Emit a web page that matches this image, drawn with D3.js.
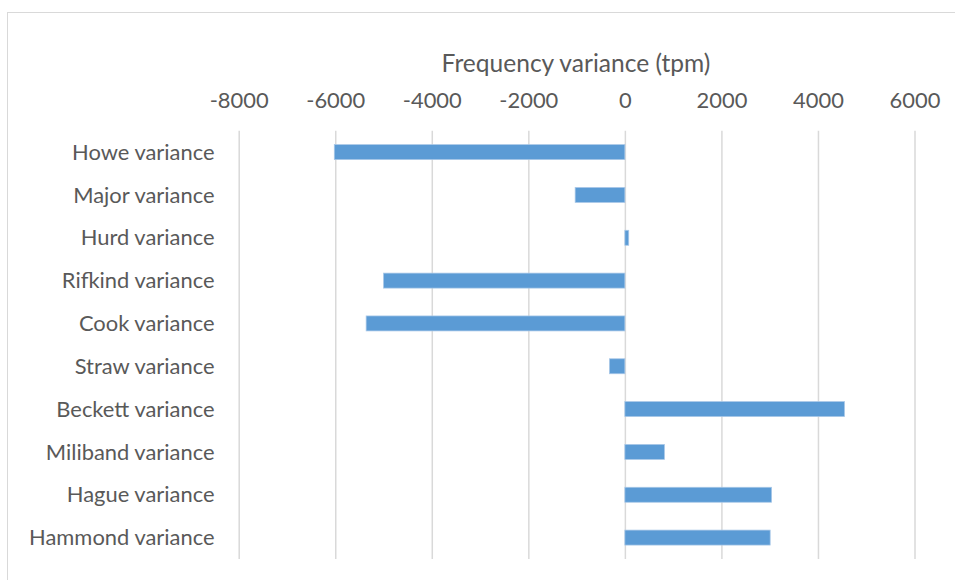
<!DOCTYPE html>
<html>
<head>
<meta charset="utf-8">
<script src="https://cdn.jsdelivr.net/npm/d3@7"></script>
<style>
  html, body { margin: 0; padding: 0; background: #fff; }
  svg { display: block; }
  text { font-family: Lato, "Open Sans", sans-serif; fill: #595959; }
</style>
</head>
<body>
<svg id="chart" width="955" height="580"></svg>
<script>
// chart values
const categories = ['Howe variance', 'Major variance', 'Hurd variance', 'Rifkind variance', 'Cook variance',
  'Straw variance', 'Beckett variance', 'Miliband variance', 'Hague variance', 'Hammond variance'];
const variance = [-6020, -1030, 80, -5000, -5360, -320, 4550, 820, 3040, 3010];
const xTicks = [-8000, -6000, -4000, -2000, 0, 2000, 4000, 6000];
const axisTitle = 'Frequency variance (tpm)';

const svg = d3.select('#chart');

// outer frame (cut off at right and bottom like the reference)
svg.append('rect')
  .attr('x', 7.5).attr('y', 12.5)
  .attr('width', 960).attr('height', 580)
  .attr('fill', 'none')
  .attr('stroke', '#d9d9d9')
  .attr('stroke-width', 1);

const plot = { left: 238.7, right: 914.5, top: 130.7, bottom: 559 };

const xScale = d3.scaleLinear()
  .domain([xTicks[0], xTicks[xTicks.length - 1]])
  .range([plot.left, plot.right]);

const yScale = d3.scaleBand()
  .domain(categories)
  .range([plot.top, plot.bottom])
  .paddingInner(0.65)
  .paddingOuter(0.325);

// fit font sizes so texts are as wide as in the picture
function fitSize(str, w) {
  const probe = svg.append('text').attr('font-size', 100).text(str);
  const s = 100 * w / probe.node().getComputedTextLength();
  probe.remove();
  return s;
}
const fontSize = fitSize('Howe variance', 142.6);
const titleSize = Math.min(fitSize(axisTitle, 272), fontSize * 1.12);

// grid lines
svg.append('g')
  .attr('transform', `translate(0, ${plot.top})`)
  .call(d3.axisTop(xScale).tickValues(xTicks).tickSize(-(plot.bottom - plot.top)).tickFormat(''))
  .call(g => g.select('.domain').remove())
  .call(g => g.selectAll('line').attr('stroke', '#d9d9d9').attr('stroke-width', 1.5));

// tick labels on top
svg.append('g')
  .attr('transform', 'translate(0, 100.5)')
  .call(d3.axisTop(xScale).tickValues(xTicks).tickSize(0).tickPadding(0).tickFormat(d => String(d)))
  .call(g => g.select('.domain').remove())
  .call(g => g.selectAll('text')
    .attr('font-family', null).attr('fill', null)
    .attr('font-size', fontSize)
    .attr('dy', '0.35em'));
svg.selectAll('.tick text').style('font-family', 'Lato, "Open Sans", sans-serif').style('fill', '#595959');

// axis title
svg.append('text')
  .attr('x', 576)
  .attr('y', 63)
  .attr('dy', '0.35em')
  .attr('text-anchor', 'middle')
  .attr('font-size', titleSize)
  .text(axisTitle);

// category labels
svg.append('g')
  .selectAll('text')
  .data(categories)
  .enter()
  .append('text')
  .attr('x', 214.5)
  .attr('y', d => yScale(d) + yScale.bandwidth() / 2)
  .attr('dy', '0.35em')
  .attr('text-anchor', 'end')
  .attr('font-size', fontSize)
  .text(d => d);

// bars
svg.append('g')
  .selectAll('rect')
  .data(categories)
  .enter()
  .append('rect')
  .attr('x', (d, i) => xScale(Math.min(0, variance[i])))
  .attr('y', d => yScale(d))
  .attr('width', (d, i) => Math.abs(xScale(variance[i]) - xScale(0)))
  .attr('height', yScale.bandwidth())
  .attr('fill', '#5b9bd5')
  .attr('stroke', '#a9c8e8')
  .attr('stroke-width', 0.75);
</script>
</body>
</html>
